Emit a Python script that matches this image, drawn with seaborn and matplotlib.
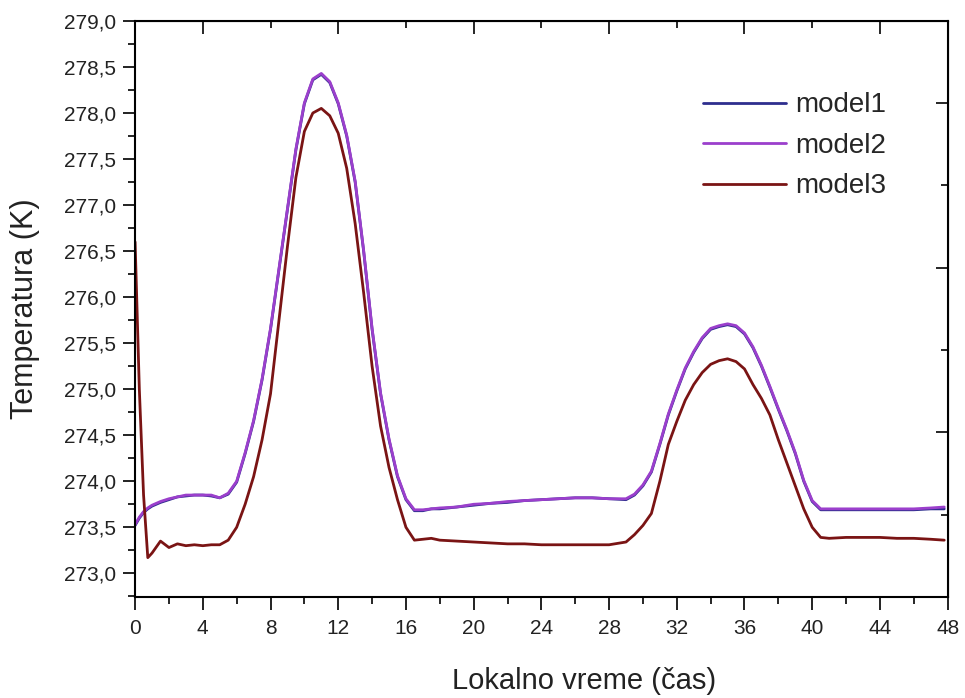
import numpy as np
import pandas as pd
import matplotlib
matplotlib.use("Agg")
import matplotlib.pyplot as plt
import seaborn as sns
from matplotlib.ticker import FuncFormatter, MultipleLocator

# time axis (hours)
hours = [0, 0.25, 0.5, 0.75, 1, 1.5, 2, 2.5, 3, 3.5, 4, 4.5, 5, 5.5, 6, 6.5, 7, 7.5,
         8, 8.5, 9, 9.5, 10, 10.5, 11, 11.5, 12, 12.5, 13, 13.5, 14, 14.5, 15, 15.5,
         16, 16.5, 17, 17.5, 18, 19, 20, 21, 22, 23, 24, 25, 26, 27, 28, 29, 29.5,
         30, 30.5, 31, 31.5, 32, 32.5, 33, 33.5, 34, 34.5, 35, 35.5, 36, 36.5, 37,
         37.5, 38, 38.5, 39, 39.5, 40, 40.5, 41, 42, 43, 44, 45, 46, 47, 47.8]

model1 = [273.52, 273.60, 273.66, 273.70, 273.73, 273.77, 273.80, 273.83, 273.84, 273.85,
          273.85, 273.84, 273.82, 273.86, 273.99, 274.30, 274.65, 275.10, 275.65, 276.30,
          276.95, 277.60, 278.10, 278.36, 278.42, 278.33, 278.10, 277.75, 277.25, 276.50,
          275.65, 274.95, 274.45, 274.05, 273.80, 273.68, 273.68, 273.70, 273.70, 273.72,
          273.74, 273.76, 273.77, 273.79, 273.80, 273.81, 273.82, 273.82, 273.81, 273.80,
          273.85, 273.95, 274.10, 274.40, 274.72, 274.98, 275.22, 275.40, 275.55, 275.65,
          275.68, 275.70, 275.68, 275.60, 275.45, 275.25, 275.02, 274.78, 274.55, 274.30,
          274.00, 273.78, 273.69, 273.69, 273.69, 273.69, 273.69, 273.69, 273.69, 273.70,
          273.70]

model2 = [273.53, 273.61, 273.67, 273.71, 273.74, 273.78, 273.81, 273.83, 273.85, 273.85,
          273.85, 273.85, 273.82, 273.87, 274.00, 274.31, 274.66, 275.11, 275.66, 276.31,
          276.96, 277.61, 278.11, 278.37, 278.43, 278.34, 278.11, 277.76, 277.26, 276.51,
          275.66, 274.96, 274.46, 274.06, 273.81, 273.69, 273.69, 273.70, 273.71, 273.72,
          273.75, 273.76, 273.78, 273.79, 273.80, 273.81, 273.82, 273.82, 273.81, 273.81,
          273.86, 273.96, 274.11, 274.41, 274.73, 274.99, 275.23, 275.41, 275.56, 275.66,
          275.69, 275.71, 275.69, 275.61, 275.46, 275.26, 275.03, 274.79, 274.56, 274.31,
          274.01, 273.79, 273.70, 273.70, 273.70, 273.70, 273.70, 273.70, 273.70, 273.71,
          273.72]

model3 = [276.60, 275.00, 273.85, 273.17, 273.22, 273.35, 273.28, 273.32, 273.30, 273.31,
          273.30, 273.31, 273.31, 273.36, 273.50, 273.75, 274.05, 274.45, 274.95, 275.75,
          276.55, 277.30, 277.80, 278.00, 278.05, 277.97, 277.78, 277.40, 276.80, 276.05,
          275.25, 274.60, 274.15, 273.80, 273.50, 273.36, 273.37, 273.38, 273.36, 273.35,
          273.34, 273.33, 273.32, 273.32, 273.31, 273.31, 273.31, 273.31, 273.31, 273.34,
          273.42, 273.52, 273.65, 274.00, 274.40, 274.65, 274.88, 275.05, 275.18, 275.27,
          275.31, 275.33, 275.30, 275.22, 275.05, 274.90, 274.72, 274.45, 274.20, 273.95,
          273.70, 273.50, 273.39, 273.38, 273.39, 273.39, 273.39, 273.38, 273.38, 273.37,
          273.36]

labels = ["model1", "model2", "model3"]
colors = ["#2e2e8e", "#9b3fcc", "#7a1414"]

df = pd.concat([
    pd.DataFrame({"t": hours, "T": vals, "model": name})
    for name, vals in zip(labels, [model1, model2, model3])
])

sns.set_style("ticks")
plt.rcParams["font.family"] = ["Liberation Sans", "DejaVu Sans"]

fig = plt.figure(figsize=(9.65, 6.98), dpi=100)
ax = fig.add_axes([0.14, 0.145, 0.842, 0.825])

sns.lineplot(data=df, x="t", y="T", hue="model", palette=colors, linewidth=2,
             ax=ax, sort=False)

ymin, ymax = 272.745, 279.0
ax.set_xlim(0, 48)
ax.set_ylim(ymin, ymax)

ax.xaxis.set_major_locator(MultipleLocator(4))
ax.xaxis.set_minor_locator(MultipleLocator(2))
ax.yaxis.set_major_locator(MultipleLocator(0.5))
ax.yaxis.set_minor_locator(MultipleLocator(0.25))
ax.yaxis.set_major_formatter(FuncFormatter(lambda v, p: f"{v:.1f}".replace(".", ",")))

ax.tick_params(which="major", direction="out", length=9, width=1.4, labelsize=15,
               colors="#222222", pad=5)
ax.tick_params(which="minor", direction="out", length=5, width=1.4)
ax.tick_params(axis="x", which="major", pad=7)
for s in ax.spines.values():
    s.set_visible(True)
    s.set_linewidth(1.5)
    s.set_color("black")

# mirrored inward ticks on top and right (Origin style)
top = ax.secondary_xaxis("top")
top.set_xticks([4, 12, 20, 28, 36, 44])
top.set_xticks([8, 16, 24, 32, 40], minor=True)
top.tick_params(which="major", direction="in", length=9, width=1.4, labeltop=False)
top.tick_params(which="minor", direction="in", length=5, width=1.4)

rt = np.linspace(ymin, ymax, 8)
right = ax.secondary_yaxis("right")
right.set_yticks(rt[[2, 4, 6]])
right.set_yticks(rt[[1, 3, 5]], minor=True)
right.tick_params(which="major", direction="in", length=9, width=1.4, labelright=False)
right.tick_params(which="minor", direction="in", length=5, width=1.4)

ax.set_xlabel("Lokalno vreme (čas)", fontsize=21, color="#222222")
ax.xaxis.set_label_coords(0.552, -0.122)
ax.set_ylabel("Temperatura (K)", fontsize=22, color="#222222")
ax.yaxis.set_label_coords(-0.117, 0.5)

handles, _ = ax.get_legend_handles_labels()
ax.legend(handles, labels, loc="upper left", bbox_to_anchor=(0.699, 0.876),
          frameon=False, fontsize=20, handlelength=3.0, handletextpad=0.3,
          labelspacing=0.52, borderaxespad=0, borderpad=0)

fig.savefig("out.png", dpi=100)
